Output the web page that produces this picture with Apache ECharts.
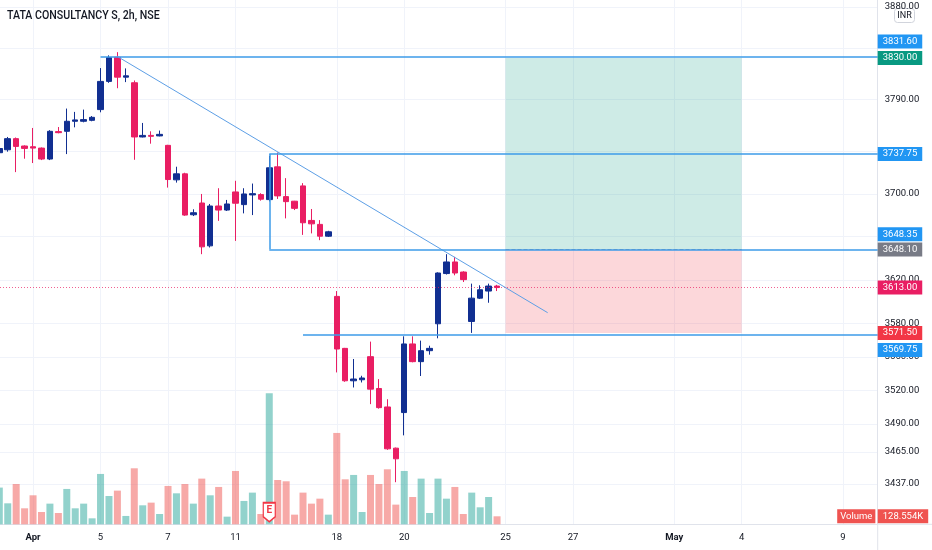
<!DOCTYPE html>
<html>
<head>
<meta charset="utf-8">
<title>TATA CONSULTANCY S, 2h, NSE</title>
<script src="https://cdn.jsdelivr.net/npm/echarts@6.0.0/dist/echarts.min.js"></script>
<style>
  html, body { margin: 0; padding: 0; background: #fff; }
  #chart { width: 932px; height: 550px; }
</style>
</head>
<body>
<div id="chart"></div>
<script>
// 2h candles, 31 Mar - 22 Apr (4 per session)
const opens = [
  3739.0, 3741.8, 3752.4, 3745.4, 3744.7, 3743.4, 3733.0, 3759.1, 3759.4, 3769.0,
  3769.0, 3769.9, 3780.2, 3807.4, 3830.8, 3811.5, 3806.1, 3754.0, 3755.5, 3755.0,
  3746.0, 3713.3, 3719.0, 3680.5, 3691.5, 3651.5, 3688.7, 3684.9, 3701.9, 3690.0,
  3699.1, 3699.4, 3694.7, 3725.6, 3697.5, 3693.2, 3707.6, 3675.2, 3671.5, 3660.5,
  3604.9, 3557.6, 3528.4, 3529.3, 3550.1, 3521.5, 3505.0, 3468.5, 3500.0, 3561.6,
  3545.6, 3555.5, 3579.9, 3625.9, 3636.6, 3627.3, 3582.0, 3603.3, 3609.8, 3614.4
];
const highs = [
  3746.0, 3754.0, 3753.5, 3746.0, 3762.6, 3744.0, 3760.5, 3763.5, 3781.2, 3778.0,
  3780.2, 3774.0, 3820.3, 3832.7, 3835.8, 3820.0, 3808.3, 3767.4, 3759.4, 3760.1,
  3746.5, 3725.7, 3720.0, 3685.6, 3700.0, 3690.6, 3705.4, 3694.4, 3712.4, 3705.4,
  3709.8, 3700.7, 3736.1, 3739.2, 3714.9, 3693.5, 3710.2, 3685.9, 3675.5, 3665.5,
  3609.8, 3558.0, 3548.0, 3532.9, 3563.7, 3529.9, 3511.9, 3469.0, 3568.5, 3568.5,
  3564.6, 3560.0, 3627.0, 3643.8, 3641.3, 3628.0, 3616.6, 3615.1, 3616.6, 3615.5
];
const lows = [
  3736.0, 3740.0, 3720.6, 3733.3, 3729.2, 3732.0, 3732.0, 3757.5, 3737.7, 3763.2,
  3768.0, 3769.0, 3777.6, 3806.0, 3800.8, 3806.7, 3732.3, 3753.6, 3747.6, 3754.6,
  3706.0, 3710.7, 3679.5, 3679.3, 3643.8, 3650.0, 3674.8, 3684.0, 3656.1, 3681.8,
  3680.2, 3693.7, 3693.0, 3695.3, 3677.1, 3684.9, 3661.7, 3663.1, 3656.8, 3659.8,
  3535.9, 3527.5, 3522.4, 3526.9, 3507.5, 3503.5, 3467.0, 3438.6, 3479.8, 3545.0,
  3532.7, 3551.9, 3566.7, 3625.0, 3624.3, 3618.1, 3571.6, 3602.5, 3599.1, 3609.8
];
const closes = [
  3743.0, 3752.4, 3745.0, 3743.1, 3743.4, 3733.0, 3759.4, 3758.1, 3769.0, 3770.3,
  3770.6, 3772.8, 3807.4, 3830.5, 3811.5, 3812.8, 3754.0, 3755.5, 3754.6, 3756.5,
  3713.6, 3719.0, 3680.2, 3682.4, 3650.6, 3688.7, 3684.9, 3690.6, 3691.3, 3700.0,
  3700.3, 3695.1, 3724.7, 3698.2, 3692.8, 3686.5, 3673.0, 3672.0, 3660.5, 3664.6,
  3557.0, 3528.4, 3530.0, 3530.9, 3520.9, 3504.4, 3467.9, 3459.1, 3561.6, 3545.6,
  3555.5, 3557.6, 3626.4, 3636.6, 3626.4, 3620.3, 3603.3, 3611.0, 3614.4, 3613.0
];
// volume in thousands
const volumes = [
  590, 337, 648, 257, 466, 198, 332, 182, 568, 257,
  332, 96, 809, 455, 541, 134, 900, 305, 348, 166,
  616, 498, 648, 332, 734, 466, 600, 123, 857, 375,
  509, 166, 2105, 712, 691, 155, 509, 332, 412, 155,
  1468, 723, 793, 198, 793, 648, 884, 316, 857, 439,
  734, 182, 734, 412, 600, 166, 509, 273, 439, 128.554
];

const dateTickIndex = [4, 12, 20, 28, 40, 48, 60, 68, 80, 88, 100];
const dateTickText = ['Apr', '5', '7', '11', '18', '20', '25', '27', 'May', '4', '9'];
const priceGridLevels = [3437, 3465, 3490, 3520, 3550, 3580, 3620, 3660, 3700, 3740, 3790, 3840, 3880];
const priceLabelLevels = [3437, 3465, 3490, 3520, 3550, 3580, 3620, 3700, 3790, 3880];

// drawings
const peakLevel = 3831.6;
const rectTop = 3737.75;
const rectBottom = 3648.35;
const supportLevel = 3569.75;
const targetLevel = 3830.0;
const entryLevel = 3648.1;
const stopLevel = 3571.5;
const lastPrice = 3613.0;
const trendStart = [14, 3831.6];
const trendEnd = [65, 3590.0];
const peakFrom = 12;
const rectFrom = 32;
const supportFrom = 36;
const positionFrom = 60;
const positionTo = 88;
const earningsIndex = 32;

const X_MIN = 0.083;
const X_MAX = 104.12;
const Y_MIN = 3402;
const Y_MAX = 3887;

const UP = '#112f91';
const DOWN = '#e91e63';
const VOL_UP = 'rgba(38,166,154,0.5)';
const VOL_DOWN = 'rgba(239,83,80,0.5)';
const DRAW = '#3d9be9';
const TEXT = '#131722';
const GRID = '#f0f3fa';
const FONT = 'Roboto';
const FS = 9.5;

const candleData = opens.map((o, i) => [i, o, closes[i], lows[i], highs[i]]);
const volumeData = volumes.map((v, i) => ({
  value: [i, v],
  itemStyle: { color: closes[i] >= opens[i] ? VOL_UP : VOL_DOWN },
}));

function tag(text, bg, dy) {
  return {
    show: true,
    position: 'end',
    distance: 0,
    formatter: text,
    color: '#fff',
    backgroundColor: bg,
    padding: [2, 5, 2, 5],
    fontSize: FS,
    lineHeight: 10,
    fontFamily: FONT,
    offset: [0, dy || 0],
  };
}

function seg(a, b, style, label) {
  return [
    { coord: a, lineStyle: style, label: label || { show: false } },
    { coord: b },
  ];
}

const drawLine = { color: DRAW, width: 1.5, type: 'solid' };
const hidden = { color: 'rgba(0,0,0,0)', width: 0 };
const lastVolume = volumes[volumes.length - 1];

const chart = echarts.init(document.getElementById('chart'), null, { renderer: 'canvas' });

chart.setOption({
  animation: false,
  backgroundColor: '#fff',
  textStyle: { fontFamily: FONT },
  grid: [
    { left: 0, right: 54.3, top: 0, bottom: 25.7 },
    { left: 0, right: 54.3, bottom: 25.7, height: 131 },
  ],
  xAxis: [
    {
      type: 'value',
      gridIndex: 0,
      min: X_MIN,
      max: X_MAX,
      axisLine: { show: true, onZero: false, lineStyle: { color: '#e0e3eb' } },
      axisTick: { show: false, customValues: dateTickIndex },
      axisLabel: {
        customValues: dateTickIndex,
        color: TEXT,
        fontSize: FS,
        fontFamily: FONT,
        margin: 8,
        formatter: (v) => {
          const t = dateTickText[dateTickIndex.indexOf(Math.round(v))] || '';
          return /[A-Za-z]/.test(t) ? '{m|' + t + '}' : t;
        },
        rich: { m: { fontWeight: 'bold', fontSize: FS, color: TEXT, fontFamily: FONT } },
      },
      splitLine: { show: true, lineStyle: { color: GRID } },
    },
    { type: 'value', gridIndex: 1, min: X_MIN, max: X_MAX, show: false },
  ],
  yAxis: [
    {
      type: 'log',
      gridIndex: 0,
      position: 'right',
      min: Y_MIN,
      max: Y_MAX,
      axisLine: { show: true, lineStyle: { color: '#e0e3eb' } },
      axisTick: { show: false, customValues: priceGridLevels },
      axisLabel: {
        customValues: priceLabelLevels,
        color: TEXT,
        fontSize: FS,
        fontFamily: FONT,
        margin: 7,
        formatter: (v) => Number(v).toFixed(2),
      },
      splitLine: { show: true, lineStyle: { color: GRID } },
    },
    {
      type: 'value',
      gridIndex: 1,
      min: 0,
      max: Math.max(...volumes),
      show: false,
    },
  ],
  series: [
    {
      type: 'bar',
      name: 'Volume',
      xAxisIndex: 1,
      yAxisIndex: 1,
      data: volumeData,
      barWidth: 7,
      z: 1,
      markLine: {
        silent: true,
        symbol: ['none', 'none'],
        label: { show: false },
        data: [
          { yAxis: lastVolume, lineStyle: hidden,
            label: tag(lastVolume.toFixed(3) + 'K', '#ef5350') },
          { yAxis: lastVolume, lineStyle: hidden,
            label: Object.assign(tag('Volume', '#ef5350'), { padding: [2, 3, 2, 3], offset: [-40.5, 0] }) },
        ],
      },
      markPoint: {
        silent: true,
        symbol: 'path://M1,1 L13,1 L13,15 L7,20 L1,15 Z',
        symbolSize: [12, 19],
        symbolOffset: [0, -12],
        itemStyle: { color: '#fff', borderColor: '#f23645', borderWidth: 1.5 },
        label: { show: true, formatter: 'E', color: '#f23645', fontSize: 10, fontWeight: 'bold', offset: [0, -2] },
        data: [{ coord: [earningsIndex, 0] }],
      },
    },
    {
      type: 'candlestick',
      name: 'TCS',
      xAxisIndex: 0,
      yAxisIndex: 0,
      data: candleData,
      encode: { x: 0, y: [1, 2, 3, 4] },
      barWidth: 6,
      z: 2,
      itemStyle: {
        color: UP,
        color0: DOWN,
        borderColor: UP,
        borderColor0: DOWN,
        borderWidth: 1,
      },
      markArea: {
        silent: true,
        data: [
          [{ coord: [positionFrom, entryLevel], itemStyle: { color: 'rgba(8,153,129,0.2)' } },
            { coord: [positionTo, targetLevel] }],
          [{ coord: [positionFrom, stopLevel], itemStyle: { color: 'rgba(242,54,69,0.2)' } },
            { coord: [positionTo, entryLevel] }],
        ],
      },
      markLine: {
        silent: true,
        symbol: ['none', 'none'],
        label: { show: false },
        data: [
          { yAxis: lastPrice, lineStyle: { color: 'rgba(233,30,99,0.7)', width: 1, type: [1, 2] },
            label: tag(lastPrice.toFixed(2), DOWN) },
          seg([positionFrom, entryLevel], [positionTo, entryLevel], { color: '#9598a1', width: 1 }),
          seg([peakFrom, peakLevel], [X_MAX, peakLevel], drawLine, tag(peakLevel.toFixed(2), '#2196f3', -15)),
          seg(trendStart, trendEnd, { color: '#5d9fe6', width: 1, type: 'solid' }),
          seg([rectFrom, rectTop], [X_MAX, rectTop], drawLine, tag(rectTop.toFixed(2), '#2196f3')),
          seg([rectFrom, rectTop], [rectFrom, rectBottom], drawLine),
          seg([rectFrom, rectBottom], [X_MAX, rectBottom], drawLine, tag(rectBottom.toFixed(2), '#2196f3', -15)),
          seg([supportFrom, supportLevel], [X_MAX, supportLevel], drawLine, tag(supportLevel.toFixed(2), '#2196f3', 15)),
          { yAxis: targetLevel, lineStyle: hidden, label: tag(targetLevel.toFixed(2), '#089981') },
          { yAxis: entryLevel, lineStyle: hidden, label: tag(entryLevel.toFixed(2), '#787b86') },
          { yAxis: stopLevel, lineStyle: hidden, label: tag(stopLevel.toFixed(2), '#f23645') },
        ],
      },
    },
  ],
  graphic: [
    {
      type: 'text',
      x: 7,
      y: 9,
      scaleX: 0.85,
      z: 100,
      style: { text: 'TATA CONSULTANCY S, 2h, NSE', fill: TEXT, font: '500 12.5px Roboto' },
    },
    {
      type: 'group',
      left: 894,
      top: 8,
      z: 100,
      children: [
        { type: 'rect', shape: { x: 0, y: 0, width: 20, height: 14, r: 3 },
          style: { fill: '#fff', stroke: '#d1d4dc', lineWidth: 1 } },
        { type: 'text', x: 10, y: 7,
          style: { text: 'INR', fill: TEXT, font: '9px Roboto', align: 'center', verticalAlign: 'middle' } },
      ],
    },
    {
      type: 'line',
      z: 100,
      shape: { x1: 877.7, y1: 524.3, x2: 932, y2: 524.3 },
      style: { stroke: '#e0e3eb', lineWidth: 1 },
    },
    {
      type: 'line',
      z: 100,
      shape: { x1: 877.7, y1: 524.3, x2: 877.7, y2: 550 },
      style: { stroke: '#e0e3eb', lineWidth: 1 },
    },
  ],
});
</script>
</body>
</html>
